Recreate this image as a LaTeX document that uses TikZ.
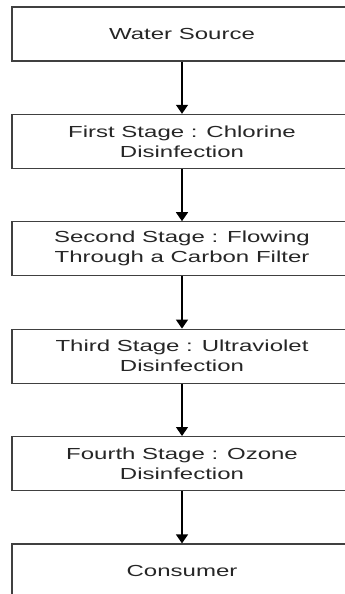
\documentclass[tikz,border=0pt]{standalone}
\usepackage{fontspec}
\setmainfont{Liberation Sans}[FakeStretch=1.5]
\usetikzlibrary{arrows.meta}

\tikzset{
  stagebox/.style={draw=black!75, line width=1.2pt, rectangle, inner sep=0pt,
    minimum width=340pt, minimum height=54pt, align=center, text=black!85,
    font=\fontsize{16}{20}\selectfont},
  flowarrow/.style={draw=black, line width=1.3pt, -{Triangle[length=9pt,width=12pt]}}
}

\begin{document}
\begin{tikzpicture}[x=1pt, y=-1pt]

  %% ==== boxes ====
  \node[stagebox] (src)  at (182,34.0)  {Water Source};
  \node[stagebox] (st1)  at (182,141.4) {First Stage : Chlorine\\Disinfection};
  \node[stagebox] (st2)  at (182,248.8) {Second Stage : Flowing\\Through a Carbon Filter};
  \node[stagebox] (st3)  at (182,356.2) {Third Stage : Ultraviolet\\Disinfection};
  \node[stagebox] (st4)  at (182,463.6) {Fourth Stage : Ozone\\Disinfection};
  \node[stagebox] (cons) at (182,571.0) {Consumer};

  %% ==== arrows ====
  \draw[flowarrow] (src)  -- (st1);
  \draw[flowarrow] (st1)  -- (st2);
  \draw[flowarrow] (st2)  -- (st3);
  \draw[flowarrow] (st3)  -- (st4);
  \draw[flowarrow] (st4)  -- (cons);

  % canvas fixed to the reference size (boxes run past the right edge)
  \pgfresetboundingbox
  \path[use as bounding box] (0,0) rectangle (345,594);
\end{tikzpicture}
\end{document}
